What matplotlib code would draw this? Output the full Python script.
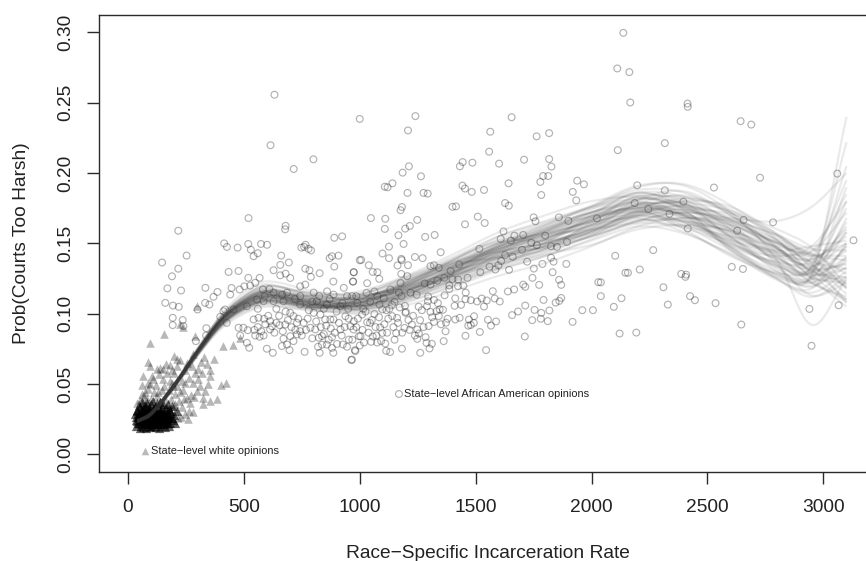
import matplotlib
matplotlib.use("Agg")
import matplotlib.pyplot as plt
from matplotlib.path import Path
from matplotlib.patches import PathPatch

plt.rcParams['font.family'] = ['Liberation Sans', 'DejaVu Sans']

x_ticks = [0, 500, 1000, 1500, 2000, 2500, 3000]
y_ticks = [0.00, 0.05, 0.10, 0.15, 0.20, 0.25, 0.30]
y_tick_labels = ['0.00', '0.05', '0.10', '0.15', '0.20', '0.25', '0.30']
x_title = 'Race\u2212Specific Incarceration Rate'
y_title = 'Prob(Courts Too Harsh)'
label_white = 'State\u2212level white opinions'
label_black = 'State\u2212level African American opinions'

black_points = [
(217,.159),(415,.150),(427,.1475),(473,.147),(519,.1496),(574,.1496),(924,.155),(147,.1364),(253,.1413),(217,.132),
(190,.1266),(170,.118),(229,.1165),(161,.1077),(194,.1058),(219,.1049),(193,.0971),(236,.0955),(193,.0919),(239,.0912),
(300,.103),(333,.1077),(351,.1065),(334,.1184),(386,.1155),(369,.112),(338,.0897),(293,.0805),(337,.0845),(434,.1297),
(477,.1304),(542,.1409),(661,.1413),(748,.147),(766,.149),(779,.1461),(694,.1364),(657,.1347),(880,.1409),(870,.1395),
(908,.1413),(890,.1335),(1000,.138),(628,.1309),(680,.1285),(657,.1273),(700,.1254),(765,.132),(783,.1309),(789,.1262),
(827,.1288),(974,.1295),(971,.1229),(886,.1229),(519,.1255),(568,.1255),(447,.1183),(482,.1172),(502,.1195),(527,.12),
(549,.122),(582,.1172),(441,.1136),(412,.1018),(398,.0978),(419,.103),(484,.0845),(513,.0793),(523,.0758),(549,.0845),
(568,.0836),(585,.0845),(477,.09),(498,.09),(517,.0883),(542,.0959),(563,.0971),(587,.0964),(613,.0947),(599,.0751),
(625,.0722),(664,.077),(686,.0781),(697,.0741),(671,.0822),(700,.084),(654,.0919),(678,.0923),(613,.0888),(621,.0911),
(700,.1006),(714,.0983),(729,.0935),(758,.0935),(743,.0876),(729,.0853),(714,.0805),(762,.0729),(827,.0722),(886,.0722),
(880,.0757),(858,.078),(837,.078),(823,.0829),(787,.09),(808,.0888),(837,.0841),(880,.0833),(927,.0781),(953,.0816),
(964,.067),(981,.0734),(996,.084),(960,.0911),(917,.0888),(873,.0959),(851,.0959),(887,.0959),(938,.0982),(1010,.0994),
(830,.0994),(801,.1006),(628,.1089),(556,.1101),(585,.1089),(743,.1195),(765,.1207),(686,.115),(743,.1125),(801,.115),
(859,.1159),(887,.1136),(931,.1184),(945,.1125),(916,.1053),(815,.1089),(858,.1065),(743,.1065),(671,.1089),(628,.115),
(513,.1053),(455,.103),(426,.0935),(1208,.2303),(1563,.2294),(1763,.2261),(1817,.2284),(1558,.2152),(1444,.2078),(1432,.2048),
(1486,.2074),(1601,.2067),(1709,.2095),(1817,.21),(1827,.2046),(1212,.2048),(1185,.2003),(1264,.1977),(1141,.1927),(1108,.1903),
(1120,.1899),(1206,.1859),(1275,.1859),(1293,.1854),(1443,.1911),(1454,.189),(1483,.1866),(1536,.188),(1642,.1927),(1791,.1979),
(1813,.1979),(1779,.1937),(1938,.1946),(1967,.192),(1919,.1866),(1783,.1844),(1934,.1806),(1627,.1787),(1643,.1768),(1415,.1763),
(1182,.1759),(1176,.1736),(1048,.168),(1509,.169),(1539,.1645),(1454,.1636),(1248,.1667),(1216,.1624),(1196,.1605),(1108,.1603),
(1167,.1558),(1282,.1546),(1323,.156),(1189,.1496),(1126,.1477),(1098,.1428),(1126,.1395),(1006,.1383),(1179,.139),(1181,.1381),
(1238,.1403),(1271,.1395),(1349,.1437),(1163,.1343),(1208,.1345),(1039,.1345),(1056,.1297),(1076,.1295),(1084,.1248),(974,.1295),
(971,.1228),(1032,.1217),(1179,.1283),(1305,.1338),(1320,.1345),(1341,.1326),(1429,.135),(1392,.1304),(1516,.1461),(1608,.1532),
(1652,.152),(1667,.1555),(1705,.156),(1758,.1657),(1859,.1685),(2023,.1678),(1764,.1487),(1825,.148),(1851,.1475),(1894,.151),
(1627,.1416),(1598,.1343),(1585,.1314),(1644,.1312),(1722,.137),(1751,.1321),(1788,.1354),(1825,.1399),(1836,.137),(1891,.1354),
(1832,.1295),(1745,.1255),(1860,.1241),(1869,.1205),(1774,.1205),(2029,.1224),(1705,.1207),(1714,.1191),(1666,.1172),(1639,.1158),
(1574,.116),(1424,.1243),(1424,.1196),(1447,.12),(1386,.1201),(1386,.1176),(1366,.1131),(1457,.115),(1412,.1109),(1456,.1103),
(1479,.1096),(1506,.1087),(1526,.1108),(1548,.1094),(1582,.1108),(1604,.1087),(1536,.1051),(1437,.1063),(1409,.1056),(1714,.1058),
(1793,.1098),(1845,.1079),(1861,.1091),(1869,.1112),(2006,.1025),(1754,.1027),(1783,.1006),(1818,.1023),(1683,.1016),(1657,.099),
(1744,.0954),(1781,.0964),(1811,.0947),(1918,.0942),(1588,.0945),(1553,.0957),(1566,.0915),(1431,.0971),(1412,.0959),(1379,.0964),
(1372,.0936),(1471,.0958),(1493,.0982),(1492,.0935),(1468,.0915),(1479,.092),(1518,.087),(1456,.0843),(1712,.0838),(1545,.0741),
(1362,.0805),(1341,.0983),(1345,.103),(1320,.1098),(1337,.1075),(1295,.1123),(1294,.1089),(1290,.1054),(1305,.1013),(1331,.1018),
(1359,.1028),(1254,.105),(1195,.1056),(1139,.1063),(1260,.0954),(1199,.1013),(1297,.0912),(1320,.0941),(1225,.0923),(1193,.0899),
(1157,.0862),(1248,.0888),(1255,.0859),(1248,.0821),(1284,.0833),(1288,.0793),(1311,.0786),(1301,.0753),(1261,.0722),(1182,.0751),
(1131,.0727),(1114,.0736),(1110,.0788),(1075,.0795),(1049,.08),(1056,.0838),(1000,.0774),(979,.0741),(966,.0674),(1003,.084),
(1088,.0902),(1097,.0863),(1123,.0965),(1140,.0983),(1161,.097),(1197,.1006),(1097,.103),(1063,.0998),(1032,.0939),(1044,.0935),
(973,.0888),(974,.0946),(1029,.1148),(1063,.1158),(1104,.111),(1132,.1172),(1169,.115),(1176,.1218),(1219,.115),(1205,.1267),
(1305,.1207),(967,.1125),(989,.1078),(2137,.2997),(2111,.2744),(2163,.2718),(2167,.2502),(2414,.2494),(2415,.2471),(2643,.2369),
(2689,.2345),(2113,.2163),(2316,.2213),(2727,.1967),(3060,.1996),(2528,.1897),(2197,.1913),(2316,.1877),(2186,.1787),(2396,.1796),
(2245,.1745),(2336,.171),(2415,.1606),(2656,.1667),(2783,.165),(2628,.159),(3130,.1522),(2102,.1412),(2266,.1452),(2208,.1314),
(2146,.1291),(2157,.1291),(2605,.1333),(2653,.1318),(2387,.1283),(2408,.1278),(2405,.1262),(2310,.1188),(2129,.111),(2096,.1049),
(2329,.1065),(2425,.1125),(2446,.1096),(2535,.1075),(2646,.0923),(2121,.0859),(2193,.0866),(2940,.1034),(3066,.106),(2949,.0772),
(2040,.1223),(632,.2557),(615,.2198),(1000,.2385),(715,.2029),(800,.2098),(1240,.2405),(1655,.2397),
(520,.168),(680,.1625),(678,.16),(890,.154),(600,.149),(530,.1455),(560,.143),(760,.1475),(790,.145),(1110,.1675),
(1400,.176),(1620,.1585),(1900,.166),(1750,.1685),(1960,.1025),(2040,.1125),
]

black_points_dense = [
(545,.0885),(560,.0905),(575,.0875),(592,.0925),(605,.0985),(632,.0865),(640,.0935),(652,.0985),(668,.0875),(690,.0955),
(705,.0905),(722,.0885),(735,.0965),(750,.0845),(768,.0885),(775,.0965),(795,.0825),(812,.0945),(820,.0765),(832,.0905),
(845,.0855),(855,.0915),(866,.0815),(875,.0895),(892,.0865),(902,.0785),(910,.0935),(922,.0845),(935,.0905),(945,.0765),
(952,.0965),(968,.0815),(985,.0905),(992,.0965),(1012,.0885),(1018,.0795),(1025,.1015),(1038,.0865),(1052,.0955),(1068,.0905),
(1072,.0845),(1083,.0975),(1092,.0805),(1106,.0925),(1118,.0865),(1128,.1035),(1145,.0905),(1150,.0815),(1165,.0935),(1172,.1045),
(1183,.0865),(1210,.0955),(1215,.0885),(1230,.0985),(1238,.0845),(1268,.1025),(1275,.0905),(1312,.0975),(1350,.0925),(1370,.0875),
(560,.1035),(590,.1125),(610,.1175),(640,.1035),(665,.1135),(680,.1015),(720,.1105),(780,.1025),(795,.1085),(825,.1125),
(845,.1035),(870,.1105),(900,.1015),(925,.1075),(950,.1035),(985,.1125),(1015,.1035),(1045,.1085),(1075,.1125),(1085,.1065),
(1115,.1025),(1150,.1085),(1180,.1125),(1245,.1135),(1280,.1215),(1335,.1235),(1365,.1255),(1400,.1245),(1465,.1255),(1520,.1295),
(1560,.1335),(1610,.1375),(1660,.1405),(1700,.1455),(1740,.1505),(1800,.1555),
]

white_points = [
(95,.0793),(156,.0859),(297,.1058),(290,.084),(239,.0905),(225,.0928),(455,.0774),(412,.077),(484,.0829),(199,.0698),
(88,.0656),(95,.0627),(138,.0616),(210,.0676),(225,.067),(213,.0627),(189,.0603),(66,.0555),(102,.056),(135,.0568),
(59,.049),(95,.0497),(282,.071),(253,.0651),(369,.0675),(340,.064),(355,.0603),(304,.0533),(355,.0555),(345,.0497),
(422,.0509),(401,.0492),(333,.0451),(297,.0451),(383,.0395),(354,.0379),(325,.0355),(322,.0403),(261,.0248),(282,.03),
(268,.0367),(239,.0459),(255,.04),(59,.0426),(39,.0367),(80,.039),(124,.0416),(160,.0395),(175,.0455),(205,.0428),
(188,.0505),(150,.0535),(122,.0495),(170,.0578),(232,.0525),(262,.0545),(247,.0598),(112,.0445),(88,.0468),(218,.0382),
(232,.0335),(245,.029),(215,.0255),(198,.0345),(270,.0425),(302,.0605),(330,.0695),(145,.0455),(70,.0415),(85,.0505),
(75,.0445),(100,.0395),(130,.0445),(155,.0485),(180,.0525),(110,.0535),(125,.0605),(165,.0645),(200,.0575),(195,.0485),
(240,.0395),(225,.0445),(212,.0485),(245,.0505),(280,.0505),(290,.0575),(275,.0625),(315,.0655),(320,.0575),(310,.0485),
(285,.0405),(262,.0305),(230,.0265),(50,.0385),(65,.0365),(140,.0375),(185,.0395),(205,.0355),(180,.0635),(150,.0605),
]

white_points_blob = [
(30,.0285),(33,.0245),(36,.0205),(38,.0315),(42,.0265),(44,.0225),(46,.035),(48,.0295),(50,.019),(52,.0245),
(54,.0335),(56,.0275),(58,.0215),(60,.0305),(62,.037),(64,.0255),(66,.0195),(68,.0325),(70,.0285),(72,.0225),
(74,.035),(76,.0265),(78,.0185),(80,.031),(82,.0245),(84,.0365),(86,.0295),(88,.0215),(90,.0335),(92,.0265),
(94,.0195),(96,.03),(98,.0235),(100,.0355),(102,.0275),(104,.0205),(106,.032),(108,.025),(110,.038),(112,.029),
(114,.0215),(116,.034),(118,.0265),(120,.0195),(122,.031),(124,.0235),(126,.0365),(128,.0285),(130,.0215),(132,.033),
(134,.025),(136,.0185),(138,.0305),(140,.0375),(142,.0265),(144,.0205),(146,.0325),(148,.024),(150,.0355),(152,.0285),
(154,.0215),(156,.031),(158,.0255),(160,.0195),(162,.0335),(164,.027),(166,.022),(168,.0305),(170,.0245),(172,.036),
(174,.0285),(176,.0205),(178,.032),(180,.0255),(183,.022),(186,.0295),(190,.0345),(194,.0245),(198,.028),(204,.022),
(210,.0305),(48,.0265),(75,.0235),(95,.0255),(115,.0245),(135,.0265),(155,.0245),(60,.0245),(85,.0275),(105,.0235),
(125,.0255),(145,.0275),(65,.0285),(110,.0275),(165,.0265),(70,.0255),(90,.024),(130,.0245),(150,.026),(100,.026),
(35,.0265),(41,.0305),(47,.0225),(53,.0285),(59,.0205),(63,.0325),(69,.0245),(73,.0305),(77,.0215),(83,.0285),
(87,.0245),(93,.0305),(97,.0205),(103,.0305),(107,.0265),(113,.0225),(117,.0305),(123,.0275),(127,.0215),(133,.0295),
(137,.0235),(143,.0305),(147,.0255),(153,.0215),(157,.0285),(163,.0235),(167,.0285),(173,.0225),(177,.0265),(182,.0305),
(55,.0255),(78,.0275),(92,.0225),(108,.0295),(121,.0245),(139,.0285),(151,.0235),(169,.0255),(45,.0275),(188,.0255),
(40,.0235),(57,.0315),(67,.0275),(79,.0335),(89,.0315),(101,.0225),(111,.0325),(119,.0285),(131,.0265),(141,.0235),
]

curve_x = [40,100,200,300,400,500,600,800,1000,1200,1400,1600,1800,2000,2200,2400,2600,2800,2950,3100]
curve_01 = [.024,.029,.049,.073,.094,.107,.113,.108,.109,.118,.131,.143,.153,.164,.175,.171,.160,.144,.134,.150]
curve_02 = [.024,.029,.050,.074,.096,.110,.117,.110,.108,.117,.130,.141,.150,.160,.170,.165,.153,.139,.133,.158]
curve_03 = [.023,.029,.049,.072,.092,.104,.110,.107,.110,.120,.133,.146,.157,.169,.181,.178,.165,.146,.132,.135]
curve_04 = [.024,.030,.050,.073,.094,.106,.112,.106,.106,.114,.127,.139,.148,.158,.167,.161,.149,.134,.130,.165]
curve_05 = [.024,.029,.049,.074,.097,.112,.120,.113,.110,.121,.136,.150,.160,.172,.186,.183,.166,.150,.137,.132]
curve_06 = [.023,.028,.048,.071,.091,.102,.107,.104,.106,.112,.124,.136,.146,.158,.172,.174,.164,.146,.126,.122]
curve_07 = [.024,.030,.050,.075,.098,.111,.116,.108,.105,.116,.132,.148,.159,.170,.179,.172,.154,.134,.130,.180]
curve_08 = [.023,.028,.049,.073,.095,.108,.115,.113,.114,.124,.135,.147,.156,.167,.181,.183,.172,.156,.142,.138]
curve_09 = [.024,.029,.048,.072,.092,.103,.108,.105,.108,.118,.130,.140,.147,.155,.166,.165,.151,.132,.122,.148]
curve_10 = [.024,.029,.050,.074,.096,.110,.118,.109,.103,.110,.124,.140,.153,.168,.183,.181,.160,.137,.122,.140]
curve_11 = [.024,.029,.049,.073,.095,.108,.114,.107,.106,.115,.129,.145,.159,.174,.186,.177,.155,.135,.133,.205]
curve_12 = [.023,.028,.048,.071,.092,.104,.109,.106,.110,.121,.134,.148,.158,.169,.175,.165,.147,.130,.126,.158]
curve_13 = [.024,.029,.049,.073,.095,.108,.114,.112,.111,.117,.127,.137,.145,.155,.166,.172,.167,.156,.146,.145]
curve_14 = [.024,.030,.050,.074,.095,.107,.112,.105,.102,.110,.122,.135,.146,.159,.173,.176,.162,.141,.125,.126]
curve_15 = [.024,.029,.050,.075,.099,.115,.123,.116,.114,.126,.140,.155,.165,.176,.190,.192,.177,.153,.128,.108]
curve_16 = [.023,.028,.047,.070,.089,.100,.105,.103,.105,.109,.119,.131,.141,.152,.162,.157,.143,.128,.124,.148]
curve_17 = [.024,.029,.049,.073,.094,.107,.113,.106,.104,.114,.128,.144,.156,.167,.177,.179,.173,.160,.147,.120]
curve_18 = [.024,.029,.048,.071,.092,.104,.109,.104,.108,.120,.135,.150,.161,.172,.180,.170,.147,.125,.112,.126]
curve_19 = [.024,.030,.050,.074,.096,.110,.116,.107,.106,.122,.138,.153,.164,.177,.191,.191,.172,.138,.092,.125]
curve_20 = [.023,.028,.048,.072,.093,.105,.110,.105,.106,.112,.123,.135,.144,.155,.164,.162,.155,.148,.142,.141]
curve_21 = [.024,.029,.049,.073,.095,.107,.113,.109,.111,.121,.133,.144,.150,.160,.173,.170,.152,.133,.128,.240]
curve_22 = [.024,.029,.050,.074,.096,.109,.114,.107,.104,.115,.131,.149,.157,.165,.170,.162,.145,.127,.120,.133]
curve_23 = [.024,.029,.049,.073,.097,.112,.120,.114,.111,.115,.123,.132,.141,.153,.166,.172,.168,.166,.176,.200]
curve_24 = [.023,.028,.048,.071,.091,.103,.108,.106,.110,.123,.138,.155,.166,.176,.184,.173,.148,.128,.125,.168]
curve_25 = [.024,.030,.050,.073,.094,.106,.113,.113,.116,.127,.142,.158,.170,.180,.183,.175,.163,.151,.141,.118]
curve_26 = [.024,.028,.049,.073,.095,.109,.115,.104,.100,.106,.116,.127,.136,.148,.162,.168,.163,.150,.135,.108]
curve_27 = [.024,.029,.049,.072,.093,.105,.111,.108,.112,.120,.129,.141,.153,.166,.178,.176,.158,.140,.134,.222]
curve_28 = [.023,.029,.050,.074,.096,.110,.116,.110,.107,.118,.132,.144,.150,.159,.172,.180,.176,.156,.132,.110]
curve_29 = [.024,.029,.048,.071,.091,.103,.109,.106,.108,.116,.129,.147,.162,.172,.179,.168,.150,.136,.132,.175]
curve_30 = [.024,.029,.049,.073,.095,.108,.114,.107,.108,.120,.134,.145,.150,.161,.178,.184,.172,.147,.128,.132]
curve_31 = [.024,.029,.049,.073,.094,.107,.112,.105,.103,.113,.129,.148,.158,.168,.175,.170,.157,.138,.122,.110]
curve_32 = [.024,.029,.050,.074,.096,.109,.115,.110,.113,.125,.136,.148,.159,.172,.182,.175,.156,.144,.144,.172]
curve_33 = [.023,.028,.048,.072,.093,.104,.110,.108,.112,.119,.127,.135,.143,.156,.171,.176,.169,.152,.134,.119]
curve_34 = [.024,.029,.050,.075,.098,.113,.121,.111,.105,.112,.127,.143,.155,.166,.176,.169,.146,.125,.118,.150]
curve_35 = [.024,.029,.049,.072,.092,.105,.112,.111,.107,.116,.133,.151,.163,.176,.188,.186,.170,.147,.130,.126]
curve_36 = [.023,.028,.048,.070,.090,.101,.106,.102,.103,.111,.121,.133,.142,.149,.160,.163,.159,.146,.138,.160]
curve_37 = [.024,.030,.050,.074,.096,.109,.116,.112,.112,.122,.137,.150,.155,.163,.175,.180,.167,.151,.145,.185]
curve_38 = [.024,.029,.049,.073,.094,.106,.110,.104,.107,.119,.130,.139,.149,.162,.168,.158,.142,.124,.115,.130]
curve_39 = [.024,.029,.049,.073,.095,.108,.116,.115,.113,.119,.132,.146,.152,.159,.170,.174,.171,.157,.136,.114]
curve_40 = [.023,.029,.050,.074,.095,.107,.111,.106,.109,.117,.126,.142,.158,.170,.174,.163,.152,.143,.139,.155]
curve_41 = [.024,.029,.048,.071,.092,.105,.112,.109,.105,.113,.130,.147,.154,.163,.181,.187,.170,.143,.122,.112]
curve_42 = [.024,.030,.050,.074,.097,.111,.118,.108,.109,.122,.134,.142,.148,.161,.176,.167,.148,.137,.140,.195]
curve_43 = [.023,.028,.049,.072,.093,.105,.109,.107,.114,.126,.137,.146,.154,.167,.177,.173,.165,.153,.143,.128]
curve_44 = [.024,.029,.049,.073,.095,.108,.113,.103,.101,.108,.120,.133,.150,.166,.173,.160,.141,.129,.129,.145]
curve_45 = [.024,.029,.050,.075,.098,.112,.119,.114,.108,.115,.128,.145,.161,.172,.178,.178,.167,.148,.125,.105]
curve_46 = [.023,.028,.048,.071,.091,.103,.108,.104,.110,.124,.139,.152,.157,.165,.172,.169,.161,.150,.141,.150]
curve_47 = [.024,.029,.049,.073,.094,.106,.111,.110,.113,.118,.125,.138,.152,.163,.169,.166,.158,.140,.127,.140]
curve_48 = [.024,.030,.050,.074,.096,.109,.115,.107,.103,.111,.126,.140,.148,.158,.174,.182,.174,.152,.130,.123]
curve_49 = [.024,.029,.049,.072,.092,.104,.110,.109,.111,.123,.136,.144,.147,.156,.169,.171,.154,.130,.119,.138]
curve_50 = [.023,.028,.049,.073,.095,.108,.114,.106,.105,.116,.131,.149,.163,.175,.182,.178,.160,.142,.136,.162]
curve_51 = [.024,.029,.050,.074,.096,.110,.117,.112,.110,.117,.128,.137,.148,.163,.177,.170,.150,.141,.148,.180]
curve_52 = [.024,.029,.048,.071,.092,.104,.109,.105,.107,.114,.128,.146,.156,.160,.165,.168,.166,.155,.139,.118]
curve_53 = [.023,.029,.049,.073,.094,.106,.113,.111,.108,.120,.138,.151,.152,.157,.170,.177,.163,.135,.113,.122]
curve_54 = [.024,.029,.050,.074,.096,.108,.113,.105,.108,.122,.135,.140,.146,.165,.184,.179,.155,.145,.148,.152]
curve_55 = [.024,.029,.049,.072,.093,.106,.112,.109,.106,.113,.125,.143,.160,.169,.172,.166,.159,.147,.131,.136]
curve_56 = [.023,.028,.049,.073,.095,.109,.116,.108,.104,.119,.133,.141,.151,.170,.186,.174,.145,.126,.127,.190]
curves = [curve_01,curve_02,curve_03,curve_04,curve_05,curve_06,curve_07,curve_08,curve_09,curve_10,curve_11,
          curve_12,curve_13,curve_14,curve_15,curve_16,curve_17,curve_18,curve_19,curve_20,curve_21,curve_22,
          curve_23,curve_24,curve_25,curve_26,curve_27,curve_28,curve_29,curve_30,curve_31,curve_32,curve_33,
          curve_34,curve_35,curve_36,curve_37,curve_38,curve_39,curve_40,curve_41,curve_42,curve_43,curve_44,
          curve_45,curve_46,curve_47,curve_48,curve_49,curve_50,curve_51,curve_52,curve_53,curve_54,curve_55,curve_56]


def smooth_path(xs, ys):
    """Bezier path through the read values (only the pen between them is curved)."""
    n = len(xs)
    slopes = []
    for i in range(n):
        a, b = max(i - 1, 0), min(i + 1, n - 1)
        slopes.append((ys[b] - ys[a]) / (xs[b] - xs[a]))
    verts, codes = [(xs[0], ys[0])], [Path.MOVETO]
    for i in range(n - 1):
        h = (xs[i + 1] - xs[i]) / 3
        verts += [(xs[i] + h, ys[i] + slopes[i] * h), (xs[i + 1] - h, ys[i + 1] - slopes[i + 1] * h), (xs[i + 1], ys[i + 1])]
        codes += [Path.CURVE4] * 3
    return Path(verts, codes)


W, H = 866, 561
fig = plt.figure(figsize=(W/100, H/100), dpi=100, facecolor='white')
ax = fig.add_axes([99/W, 1-471.5/H, (W-99)/W, (471.5-15)/H])
ax.set_xlim(-125, 3184)
ax.set_ylim(-0.0122, 0.3124)

ink = '#2a2a2a'
all_black = black_points + black_points_dense
ax.scatter([p[0] for p in white_points], [p[1] for p in white_points], marker='^', s=38,
           color='black', alpha=0.28, linewidths=0, zorder=2)
ax.scatter([p[0] for p in white_points_blob], [p[1] for p in white_points_blob], marker='^', s=44,
           color='black', alpha=0.6, linewidths=0, zorder=2)
ax.scatter([p[0] for p in all_black], [p[1] for p in all_black], marker='o', s=24,
           facecolors='none', edgecolors=(0, 0, 0, 0.30), linewidths=0.85, zorder=2)
for c in curves:
    ax.add_patch(PathPatch(smooth_path(curve_x, c), fill=False, edgecolor=(0.22, 0.22, 0.22, 0.10), lw=1.6, zorder=3))

ax.scatter([73], [0.0023], marker='^', s=30, color='black', alpha=0.27, linewidths=0)
ax.text(99, 0.0023, label_white, fontsize=7.95, va='center', ha='left', color='#222222')
ax.scatter([1169], [0.0429], marker='o', s=24, facecolors='none', edgecolors=(0, 0, 0, 0.30), linewidths=0.85)
ax.text(1192, 0.0429, label_black, fontsize=7.95, va='center', ha='left', color='#222222')

for s in ('top', 'left', 'bottom'):
    ax.spines[s].set_linewidth(1.0)
    ax.spines[s].set_color(ink)
ax.spines['right'].set_visible(False)

ax.set_xticks(x_ticks)
ax.set_yticks(y_ticks)
ax.set_yticklabels(y_tick_labels, rotation=90, va='center')
ax.tick_params(axis='x', length=8.6, width=1.0, color=ink, labelsize=13.8, pad=11.5, labelcolor='#222222')
ax.tick_params(axis='y', length=8.6, width=1.0, color=ink, labelsize=13.8, pad=9, labelcolor='#222222')

fig.text(487.5/W, 1-554/H, x_title, fontsize=13.8, ha='center', va='center', color='#222222')
fig.text(21.5/W, 1-243/H, y_title, fontsize=13.8, rotation=90, ha='center', va='center', color='#222222')

fig.savefig('out.png', dpi=100)
